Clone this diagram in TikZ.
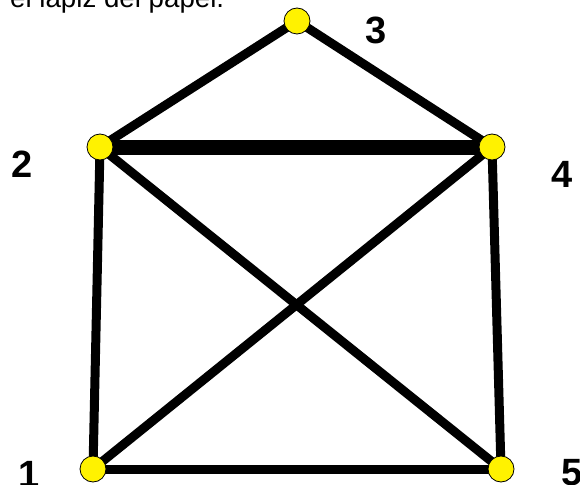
\documentclass[tikz,border=0pt]{standalone}
\usepackage{fontspec}
\setmainfont{Liberation Sans}
\begin{document}
\begin{tikzpicture}[x=1pt,y=-1pt,
  vtx/.style={circle,draw=black,fill=yellow,line width=0.8pt,minimum size=26pt,inner sep=0pt},
  edge/.style={line width=9pt},
  bigedge/.style={line width=15pt},
  lbl/.style={font=\fontsize{38}{38}\selectfont\bfseries,inner sep=0pt}]
\clip (0,0) rectangle (580,484);
\fill[white] (0,0) rectangle (580,484);
\node[anchor=base west,inner sep=0pt,font=\fontsize{27.7}{28}\selectfont] (txt) at (10,8) {el lápiz del papel.};
\coordinate (p1) at (93,469);
\coordinate (p2) at (100,147);
\coordinate (p3) at (297,21);
\coordinate (p4) at (492,147);
\coordinate (p5) at (501,469);
\draw[edge] (p2) -- (p3);
\draw[edge] (p3) -- (p4);
\draw[bigedge] (p2) -- (p4);
\draw[edge] (p2) -- (p1);
\draw[edge] (p2) -- (p5);
\draw[edge] (p4) -- (p1);
\draw[edge] (p4) -- (p5);
\draw[edge] (p1) -- (p5);
\node[vtx] (n1) at (p1) {};
\node[vtx] (n2) at (p2) {};
\node[vtx] (n3) at (p3) {};
\node[vtx] (n4) at (p4) {};
\node[vtx] (n5) at (p5) {};
\node[lbl] (l1) at (29,474) {1};
\node[lbl] (l2) at (22,164) {2};
\node[lbl] (l3) at (376,30) {3};
\node[lbl] (l4) at (562,174) {4};
\node[lbl] (l5) at (572,473) {5};
\end{tikzpicture}
\end{document}
